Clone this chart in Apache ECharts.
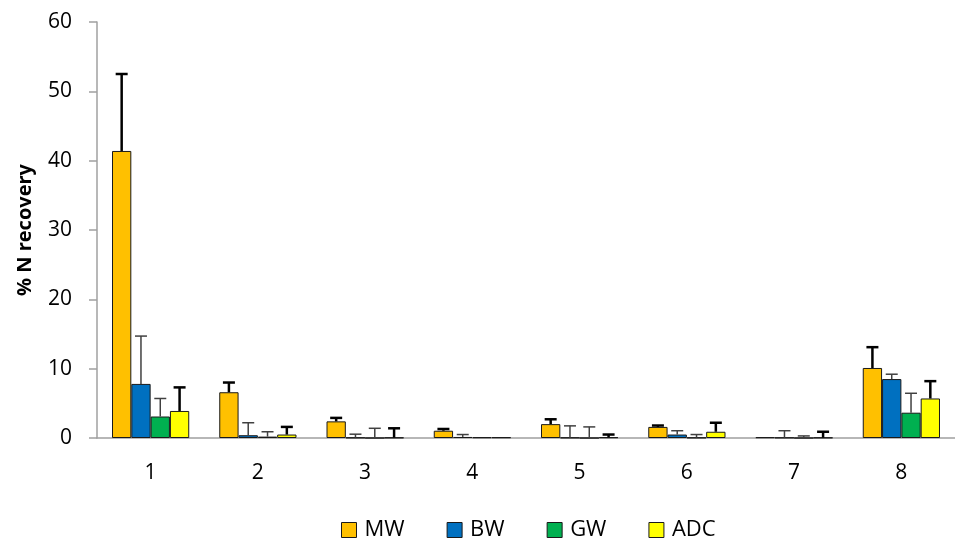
<!DOCTYPE html>
<html><head><meta charset="utf-8">
<script src="https://cdn.jsdelivr.net/npm/echarts@6/dist/echarts.min.js"></script>
<style>html,body{margin:0;padding:0;background:#fff}#c{width:955px;height:541px}</style>
</head><body><div id="c"></div>
<script>
const categories = ['1','2','3','4','5','6','7','8'];
const seriesNames = ['MW','BW','GW','ADC'];
const mw = [41.4, 6.6, 2.4, 1.05, 2.0, 1.6, 0.1, 10.1];
const bw = [7.8, 0.4, 0.05, 0.15, 0.05, 0.5, 0.05, 8.5];
const gw = [3.1, 0.2, 0.0, 0.1, 0.0, 0.05, 0.0, 3.65];
const adc = [3.9, 0.5, 0.05, 0.1, 0.1, 0.9, 0.05, 5.7];
const mwErr = [11.1, 1.4, 0.5, 0.25, 0.7, 0.2, 0, 3.0];
const bwErr = [6.9, 1.8, 0.5, 0.35, 1.7, 0.55, 1.0, 0.7];
const gwErr = [2.6, 0.7, 1.4, 0, 1.6, 0.45, 0.3, 2.8];
const adcErr = [3.4, 1.1, 1.35, 0, 0.4, 1.3, 0.85, 2.5];
const yTicks = [0, 10, 20, 30, 40, 50, 60];

const values = [mw, bw, gw, adc];
const errs = [mwErr, bwErr, gwErr, adcErr];
const colors = ['#FFC000', '#0070C0', '#00B050', '#FFFF00'];
const errStyle = [
  {stroke:'#000', lineWidth:2.5},
  {stroke:'#404040', lineWidth:1.5},
  {stroke:'#404040', lineWidth:1.5},
  {stroke:'#000', lineWidth:2.5}
];
const BAR_FRAC = 0.18;
const font = '"Open Sans", sans-serif';

const series = [];
seriesNames.forEach((n, k) => {
  series.push({
    name: n, type: 'bar', data: values[k],
    barWidth: (BAR_FRAC*100) + '%', barGap: '0%',
    itemStyle: {color: colors[k], borderColor: '#1a1a1a', borderWidth: 1},
    z: 2
  });
});
seriesNames.forEach((n, k) => {
  series.push({
    type: 'custom', z: 3, silent: true,
    data: values[k].map((v, i) => [i, v, v + errs[k][i]]),
    renderItem: function (params, api) {
      const i = api.value(0), v = api.value(1), e = api.value(2);
      if (e <= v) return null;
      const bwPx = api.size([1, 0])[0] * BAR_FRAC;
      const p = api.coord([i, v]);
      const t = api.coord([i, e]);
      const cx = p[0] + (k - 1.5) * bwPx;
      const cap = 6;
      return {
        type: 'group',
        children: [
          {type: 'line', shape: {x1: cx, y1: p[1], x2: cx, y2: t[1]}, style: errStyle[k]},
          {type: 'line', shape: {x1: cx - cap, y1: t[1], x2: cx + cap, y2: t[1]}, style: errStyle[k]}
        ]
      };
    }
  });
});

const chart = echarts.init(document.getElementById('c'));
chart.setOption({
  animation: false,
  textStyle: {fontFamily: font},
  grid: {left: 97, right: 0, top: 22, bottom: 103},
  legend: {
    data: seriesNames.map((n, k) => ({name: n, itemStyle: {color: colors[k], borderColor: '#1a1a1a', borderWidth: 1}})),
    top: 519, left: 341, padding: 0, icon: 'rect', itemWidth: 15, itemHeight: 15, itemGap: 42,
    textStyle: {fontFamily: font, fontSize: 22, lineHeight: 22, color: '#000', padding: [0, 0, 0, 3]}
  },
  xAxis: {
    type: 'category', data: categories,
    axisLine: {lineStyle: {color: '#a0a0a0', width: 1.5}},
    axisTick: {length: 9, lineStyle: {color: '#a0a0a0', width: 1.5}},
    axisLabel: {fontFamily: font, fontSize: 21, color: '#000', margin: 25}
  },
  yAxis: {
    type: 'value', min: yTicks[0], max: yTicks[yTicks.length - 1], interval: 10,
    name: '% N recovery', nameLocation: 'middle', nameGap: 62,
    nameTextStyle: {fontFamily: font, fontSize: 20, fontWeight: 'bold', color: '#000'},
    axisLine: {show: true, lineStyle: {color: '#a0a0a0', width: 1.5}},
    axisTick: {show: true, length: 8, lineStyle: {color: '#a0a0a0', width: 1.5}},
    splitLine: {show: false},
    axisLabel: {fontFamily: font, fontSize: 21, color: '#000', margin: 25}
  },
  series: series
});
</script></body></html>
